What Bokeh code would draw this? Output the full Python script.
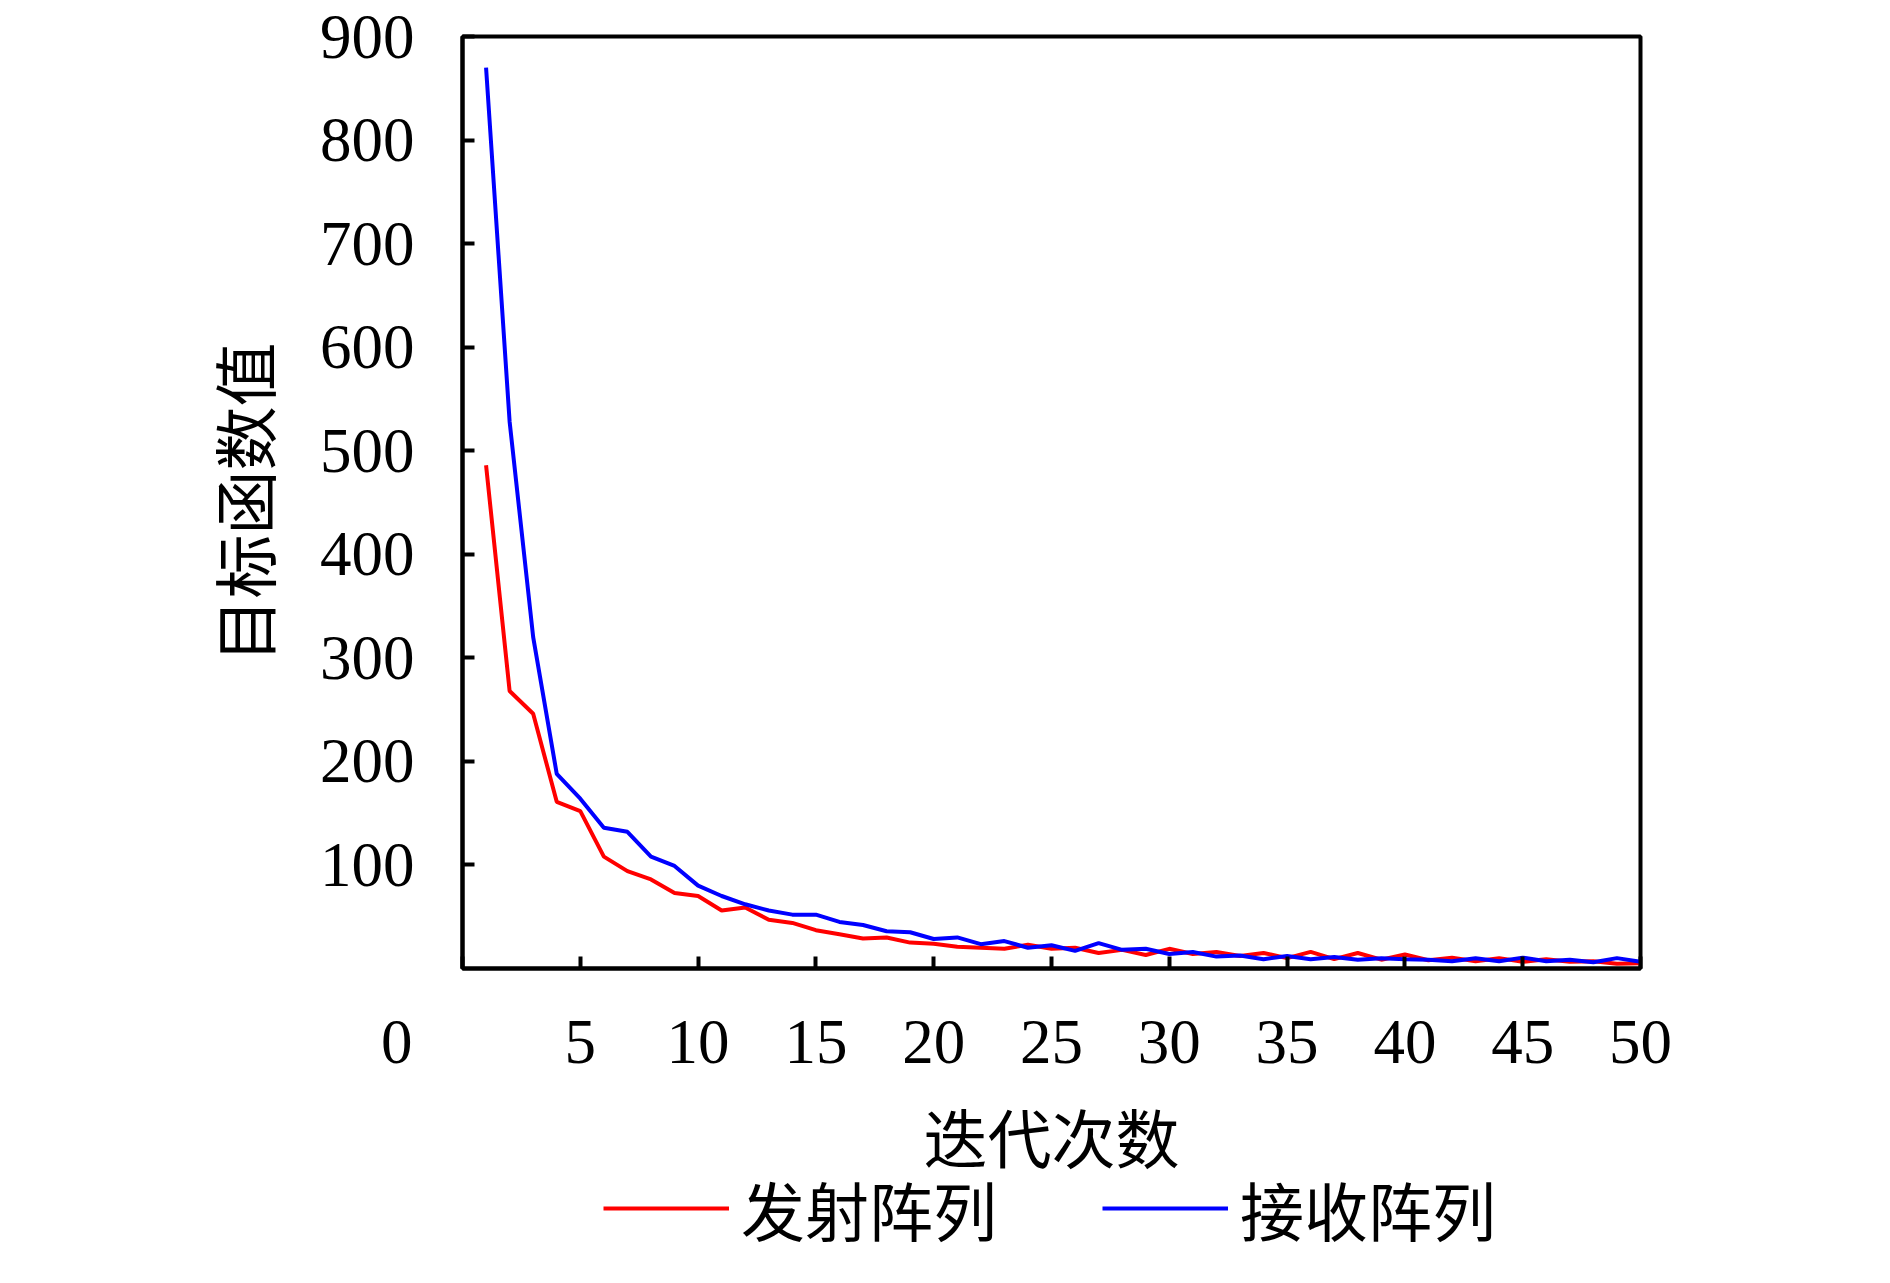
from bokeh.plotting import figure
from bokeh.models import Range1d, FixedTicker, Legend, LegendItem
from bokeh.layouts import column
from bokeh.embed import file_html
from bokeh.resources import INLINE

iterations = list(range(1, 51))
tx_array = [486, 268, 246, 161, 152, 108, 94, 86, 73, 70,
            56, 59, 47, 44, 37, 33, 29, 30, 25, 24,
            21, 20, 19, 23, 19, 20, 15, 18, 13, 19,
            14, 16, 12, 15, 10, 16, 9, 15, 8.5, 13.5,
            8, 10.5, 7, 10, 6.5, 9, 6.5, 7, 4.5, 5]
rx_array = [870, 528, 320, 188, 164, 136, 132, 108, 99, 80,
            70, 62, 56, 52, 52, 45, 42, 36, 35, 28.5,
            30, 23.5, 26.5, 20, 22.5, 17, 24.5, 18, 19, 14,
            16, 11.5, 12.5, 9, 12, 9, 11, 8.5, 10, 9,
            8.5, 7, 10, 7, 10.5, 7, 8.5, 6, 10, 6.5]
x_ticks = [0, 5, 10, 15, 20, 25, 30, 35, 40, 45, 50]
y_ticks = [100, 200, 300, 400, 500, 600, 700, 800, 900]
series_names = ["发射阵列", "接收阵列"]
xlabel = "迭代次数"
ylabel = "目标函数值"
RED, BLUE = "#ff0000", "#0000ff"

SERIF = "Liberation Serif"
CJK = "Noto Sans CJK SC"

W = 1874
H_MAIN, H_LEG, OVERLAP = 1190, 107, 30
p = figure(width=W, height=H_MAIN, output_backend="svg", toolbar_location=None,
           x_range=Range1d(0, 50), y_range=Range1d(0, 900),
           min_border_left=462, min_border_right=234,
           min_border_top=36, min_border_bottom=H_MAIN - 968)
p.xgrid.visible = False
p.ygrid.visible = False
p.outline_line_color = "black"
p.outline_line_width = 4
p.background_fill_color = "white"
p.border_fill_color = "white"

p.line(iterations, tx_array, line_color=RED, line_width=4)
p.line(iterations, rx_array, line_color=BLUE, line_width=4)

for ax in (p.xaxis[0], p.yaxis[0]):
    ax.axis_line_width = 4
    ax.axis_line_color = "black"
    ax.major_tick_in = 12
    ax.major_tick_out = 0
    ax.major_tick_line_width = 4
    ax.minor_tick_line_color = None
    ax.major_label_text_font = SERIF
    ax.major_label_text_font_size = "63px"
    ax.major_label_text_color = "black"
    ax.axis_label_text_font = CJK
    ax.axis_label_text_font_size = "64px"
    ax.axis_label_text_font_style = "normal"
    ax.axis_label_text_color = "black"

p.xaxis.ticker = FixedTicker(ticks=x_ticks)
p.yaxis.ticker = FixedTicker(ticks=y_ticks)
# the origin label sits to the left of the corner, as in the reference
p.xaxis.major_label_overrides = {0: "0\u2003\u2003\u200a"}
p.xaxis.major_label_standoff = 38
p.yaxis.major_label_standoff = 48
p.xaxis.axis_label = xlabel
p.yaxis.axis_label = ylabel
p.xaxis.axis_label_standoff = 9
p.yaxis.axis_label_standoff = 29

# transparent legend strip below the chart, slightly overlapping its bottom border
q = figure(width=W, height=H_LEG, output_backend="svg", toolbar_location=None,
           x_range=Range1d(-3, -2), y_range=Range1d(0, 1),
           x_axis_type=None, y_axis_type=None, min_border=0,
           margin=(-OVERLAP, 0, 0, 0))
q.outline_line_color = None
q.background_fill_alpha = 0
q.border_fill_alpha = 0
l1 = q.line(iterations, tx_array, line_color=RED, line_width=4)
l2 = q.line(iterations, rx_array, line_color=BLUE, line_width=4)
legend = Legend(items=[LegendItem(label=series_names[0], renderers=[l1]),
                       LegendItem(label=series_names[1], renderers=[l2])],
                orientation="horizontal", location=(141, 13),
                glyph_width=126, glyph_height=60, label_height=60,
                label_standoff=12, spacing=105, padding=0, margin=0,
                border_line_color=None, background_fill_alpha=0,
                label_text_font=CJK, label_text_font_size="64px",
                label_text_color="black")
q.add_layout(legend, "center")

open("out.html", "w").write(file_html(column(p, q), INLINE))
